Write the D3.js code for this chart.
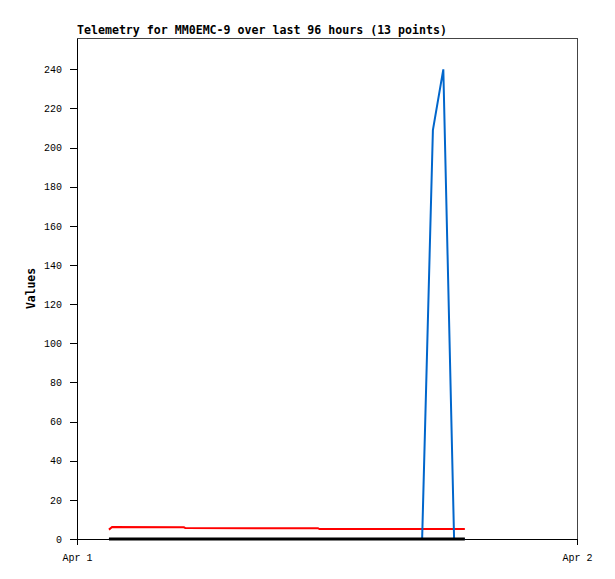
<!DOCTYPE html>
<html>
<head>
<meta charset="utf-8">
<script src="https://cdn.jsdelivr.net/npm/d3@7"></script>
<style>
  body { margin: 0; background: #fff; }
  text { font-family: "DejaVu Sans Mono", monospace; }
</style>
</head>
<body>
<script>
// telemetry samples (times on Apr 1)
const times = ["01:32", "01:41", "05:08", "05:12", "11:34", "11:38", "16:34",
               "17:05", "17:35", "18:06", "18:20", "18:30", "18:37"];
const redValues   = [4.8, 6.1, 6.0, 5.6, 5.5, 5.1, 5.1, 5.1, 5.1, 5.1, 5.1, 5.1, 5.1];
const blueValues  = [0, 0, 0, 0, 0, 0, 0, 209, 240, 0, 0, 0, 0];
const blackValues = [0, 0, 0, 0, 0, 0, 0, 0, 0, 0, 0, 0, 0];
const yTicks = [0, 20, 40, 60, 80, 100, 120, 140, 160, 180, 200, 220, 240];
const xTickLabels = ["Apr 1", "Apr 2"];
const title = "Telemetry for MM0EMC-9 over last 96 hours (13 points)";

const width = 615, height = 579;
const margin = { top: 38, right: 38, bottom: 40, left: 77 };

const parseT = d3.timeParse("%Y-%m-%d %H:%M");
const dates = times.map(t => parseT("2024-04-01 " + t));
const dayStart = parseT("2024-04-01 00:00");
const dayEnd = parseT("2024-04-02 00:00");

const x = d3.scaleTime()
    .domain([dayStart, dayEnd])
    .range([margin.left, width - margin.right]);
const y = d3.scaleLinear()
    .domain([0, 256])
    .range([height - margin.bottom, margin.top]);

const svg = d3.select("body").append("svg")
    .attr("width", width)
    .attr("height", height);

// frame (top + right)
svg.append("path")
    .attr("d", `M${x(dayStart)},${y(256)}H${x(dayEnd)}V${y(0)}`)
    .attr("fill", "none")
    .attr("stroke", "#444")
    .attr("shape-rendering", "crispEdges");

// title
svg.append("text")
    .attr("x", margin.left)
    .attr("y", 34)
    .attr("font-size", 11.6)
    .attr("font-weight", "bold")
    .text(title);

// y label
svg.append("text")
    .attr("transform", `translate(35,${(y(0) + y(256)) / 2}) rotate(-90)`)
    .attr("text-anchor", "middle")
    .attr("font-size", 11.4)
    .attr("font-weight", "bold")
    .text("Values");

// axes
const yAxis = svg.append("g")
    .attr("transform", `translate(${margin.left},0)`)
    .call(d3.axisLeft(y).tickValues(yTicks).tickSize(7).tickSizeOuter(0).tickPadding(8));
yAxis.selectAll("text").attr("font-size", 10).style("font-family", "'Liberation Mono', monospace");

const xAxis = svg.append("g")
    .attr("transform", `translate(0,${y(0)})`)
    .call(d3.axisBottom(x).tickValues([dayStart, dayEnd])
        .tickFormat((d, i) => xTickLabels[i])
        .tickSize(6).tickSizeOuter(0).tickPadding(9));
xAxis.selectAll("text").attr("font-size", 10).style("font-family", "'Liberation Mono', monospace");

svg.selectAll(".domain, .tick line")
    .attr("stroke", "#000")
    .attr("shape-rendering", "crispEdges");

// series
const series = [
    { values: redValues, color: "#ff0000", w: 2 },
    { values: blueValues, color: "#0066cc", w: 2 },
    { values: blackValues, color: "#000000", w: 3 }
];

series.forEach(s => {
    const line = d3.line()
        .x((d, i) => x(dates[i]))
        .y(d => y(d));
    svg.append("path")
        .datum(s.values)
        .attr("d", line)
        .attr("fill", "none")
        .attr("stroke", s.color)
        .attr("stroke-width", s.w);
});
</script>
</body>
</html>
